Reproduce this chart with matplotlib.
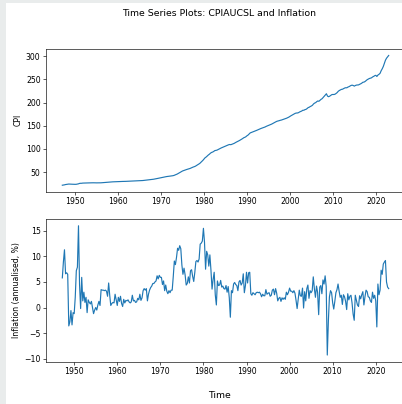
import numpy as np
import pandas as pd
import matplotlib
matplotlib.use("Agg")
import matplotlib.pyplot as plt
from matplotlib.patches import Rectangle

# CPIAUCSL, quarterly averages, 1947Q1 .. 2023Q1
cpi_1940s = [21.70, 22.01, 22.49, 23.13,
             23.50, 23.84, 24.22, 24.03,
             23.86, 23.86, 23.71, 23.66]
cpi_1950s = [23.59, 23.71, 24.14, 24.63,
             25.59, 25.88, 25.88, 26.28,
             26.38, 26.48, 26.67, 26.67,
             26.60, 26.70, 26.80, 26.85,
             26.93, 26.93, 26.83, 26.80,
             26.77, 26.77, 26.80, 26.88,
             26.90, 27.10, 27.35, 27.58,
             27.80, 28.02, 28.25, 28.40,
             28.73, 28.90, 28.92, 28.98,
             29.05, 29.11, 29.30, 29.41]
cpi_1960s = [29.41, 29.55, 29.63, 29.78,
             29.84, 29.83, 29.95, 30.01,
             30.11, 30.21, 30.32, 30.41,
             30.48, 30.56, 30.74, 30.84,
             30.94, 31.02, 31.10, 31.24,
             31.35, 31.55, 31.66, 31.81,
             32.07, 32.36, 32.63, 32.93,
             33.04, 33.25, 33.53, 33.85,
             34.20, 34.60, 35.00, 35.43,
             35.88, 36.43, 36.93, 37.50]
cpi_1970s = [38.05, 38.60, 39.03, 39.53,
             39.85, 40.28, 40.60, 40.87,
             41.20, 41.50, 41.85, 42.20,
             42.83, 43.78, 44.67, 45.73,
             47.10, 48.43, 49.93, 51.40,
             52.43, 53.27, 54.27, 55.13,
             55.73, 56.37, 57.20, 57.87,
             58.93, 60.07, 60.97, 61.73,
             62.77, 64.17, 65.60, 67.03,
             68.63, 70.80, 73.03, 75.43]
cpi_1980s = [78.37, 80.93, 82.53, 84.77,
             86.87, 88.57, 90.77, 92.37,
             93.20, 94.47, 96.27, 96.87,
             97.30, 98.53, 99.67, 100.77,
             102.07, 103.07, 104.13, 105.07,
             106.00, 107.13, 107.93, 109.03,
             109.53, 109.10, 110.00, 110.80,
             111.87, 113.27, 114.53, 115.73,
             116.67, 118.10, 119.63, 120.93,
             122.37, 124.07, 124.97, 126.30]
cpi_1990s = [128.33, 129.83, 132.00, 134.47,
             135.37, 136.17, 137.17, 138.10,
             138.97, 139.97, 141.00, 142.03,
             143.07, 144.03, 144.80, 145.73,
             146.57, 147.40, 148.67, 149.63,
             150.67, 151.77, 152.60, 153.50,
             154.80, 156.17, 157.13, 158.57,
             159.67, 160.17, 160.90, 161.70,
             162.20, 162.97, 163.63, 164.40,
             165.07, 166.30, 167.33, 168.57]
cpi_2000s = [170.17, 171.53, 172.90, 174.13,
             175.57, 176.77, 177.37, 177.47,
             178.17, 179.67, 180.70, 181.67,
             183.37, 183.33, 184.73, 185.33,
             187.03, 189.07, 189.93, 191.47,
             192.57, 194.13, 197.00, 198.83,
             199.83, 201.90, 203.43, 202.70,
             204.70, 206.87, 208.27, 211.06,
             213.48, 216.82, 219.02, 213.96,
             212.58, 213.68, 215.43, 217.00]
cpi_2010s = [217.46, 217.31, 217.99, 219.54,
             221.44, 224.17, 225.93, 227.06,
             228.39, 228.73, 230.14, 231.32,
             231.99, 231.78, 233.33, 234.22,
             235.51, 236.94, 237.50, 236.74,
             235.40, 236.80, 237.66, 237.96,
             238.09, 239.43, 240.46, 241.96,
             243.78, 244.09, 245.37, 247.44,
             249.31, 250.63, 251.86, 252.65,
             253.30, 255.17, 256.33, 257.89]
cpi_2020s = [258.75, 256.25, 259.31, 260.91,
             263.16, 268.62, 272.79, 277.84,
             284.43, 291.28, 295.57, 298.37,
             301.49]

# annualised quarterly inflation (%), 1947Q2 .. 2023Q1
infl_1940s = [5.8, 8.9, 11.3,
              6.6, 6.8, 6.5, -3.6,
              -2.8, -0.6, -3.4, -1.0]
infl_1950s = [-1.2, 2.0, 7.2, 7.9,
              16.0, 4.5, -0.2, 5.9,
              1.3, 3.0, 1.0, 2.0,
              -1.0, 1.5, 1.0, 0.7,
              1.2, 0.0, -1.2, -0.5,
              0.0, -0.5, 0.5, 1.2,
              0.4, 3.5, 3.4, 3.4,
              3.3, 3.4, 3.2, 2.2,
              4.8, 2.4, 0.4, 0.8,
              1.0, 0.9, 2.6, 1.5]
infl_1960s = [0.4, 2.0, 1.2, 2.2,
              0.8, 0.2, 1.6, 0.9,
              1.4, 1.3, 1.5, 1.1,
              0.9, 1.1, 2.4, 1.3,
              1.4, 1.0, 1.1, 1.8,
              1.5, 2.6, 1.4, 1.9,
              3.3, 3.7, 3.4, 3.7,
              1.3, 2.6, 3.4, 3.9,
              4.2, 4.7, 4.7, 5.0,
              5.2, 6.2, 5.6, 6.3]
infl_1970s = [5.9, 5.9, 4.5, 5.2,
              3.3, 4.4, 3.2, 2.7,
              3.3, 2.9, 3.4, 3.4,
              6.1, 9.1, 8.4, 9.8,
              11.6, 11.2, 12.1, 11.5,
              8.3, 6.5, 7.7, 6.4,
              4.4, 4.7, 6.0, 4.8,
              7.2, 7.4, 6.1, 5.1,
              6.9, 9.0, 9.2, 8.9,
              9.5, 12.4, 12.6, 13.0]
infl_1980s = [15.5, 12.8, 7.5, 11.0,
              10.3, 8.1, 10.3, 7.3,
              3.6, 5.5, 6.9, 2.5,
              0.5, 5.2, 4.3, 4.4,
              5.3, 4.0, 4.2, 3.7,
              3.6, 4.3, 3.0, 4.1,
              1.9, -1.9, 3.3, 2.9,
              4.6, 4.9, 4.5, 4.3,
              3.3, 5.0, 5.3, 4.4,
              4.8, 6.6, 2.9, 4.3]
infl_1990s = [6.9, 4.8, 6.8, 6.9,
              2.7, 2.4, 2.9, 2.7,
              2.5, 2.9, 3.0, 2.9,
              3.0, 2.7, 2.1, 2.6,
              2.3, 2.3, 3.5, 2.6,
              2.8, 2.9, 2.2, 2.4,
              3.4, 3.6, 2.5, 3.7,
              2.8, 1.3, 1.8, 2.0,
              1.2, 1.9, 1.6, 1.9,
              1.6, 3.0, 2.5, 3.0]
infl_2000s = [3.8, 3.2, 3.2, 2.9,
              3.3, 2.8, 1.4, -0.2,
              1.6, 3.4, 2.3, 2.2,
              3.8, -0.1, 3.1, 1.3,
              3.7, 4.4, 1.8, 3.3,
              2.9, 3.3, 6.0, 3.7,
              2.0, 4.2, 3.0, -1.4,
              4.0, 4.3, 2.7, 5.4,
              4.6, 6.2, 4.1, -9.3,
              -2.6, 2.1, 3.3, 2.9]
infl_2010s = [0.9, -0.3, 1.2, 2.9,
              3.5, 4.6, 3.2, 2.0,
              2.4, 0.6, 2.5, 2.1,
              1.2, -0.4, 2.7, 1.5,
              2.2, 2.4, 0.9, -1.3,
              -2.5, 2.4, 1.5, 0.5,
              0.2, 2.3, 1.7, 2.5,
              3.1, 0.5, 2.1, 3.4,
              3.1, 2.1, 2.0, 1.3,
              1.0, 3.0, 1.8, 2.4]
infl_2020s = [1.3, -3.8, 4.6, 2.5,
              3.4, 7.3, 6.5, 8.5,
              8.9, 9.2, 5.0, 4.0,
              3.7]

cpi = (cpi_1940s + cpi_1950s + cpi_1960s + cpi_1970s + cpi_1980s
       + cpi_1990s + cpi_2000s + cpi_2010s + cpi_2020s)
inflation = (infl_1940s + infl_1950s + infl_1960s + infl_1970s + infl_1980s
             + infl_1990s + infl_2000s + infl_2010s + infl_2020s)

dates = pd.date_range("1947-01-01", periods=len(cpi), freq="QS")
infl_dates = dates[len(cpi) - len(inflation):]

W, H = 402, 404
DPI = 56
fig = plt.figure(figsize=(W / DPI, H / DPI), dpi=DPI, facecolor="#e9ecec")
# white canvas (notebook output area), grey strip left and top
fig.patches.append(Rectangle((6 / W, 0), 1, 1 - 3 / H, transform=fig.transFigure,
                             facecolor="white", edgecolor="none", zorder=-10))

ax1 = fig.add_axes([46 / W, 1 - 191.7 / H, 359 / W, 142.7 / H])
ax2 = fig.add_axes([46 / W, 1 - 361.5 / H, 359 / W, 142.2 / H])

ax1.plot(dates, cpi)
ax1.set_ylabel("CPI")

ax2.plot(infl_dates, inflation)
ax2.set_ylabel("Inflation (annualised, %)")

fig.align_ylabels([ax1, ax2])
fig.suptitle("Time Series Plots: CPIAUCSL and Inflation", x=219 / W, y=0.977)
fig.supxlabel("Time", x=219 / W)

fig.savefig("out.png", dpi=DPI, facecolor=fig.get_facecolor())
